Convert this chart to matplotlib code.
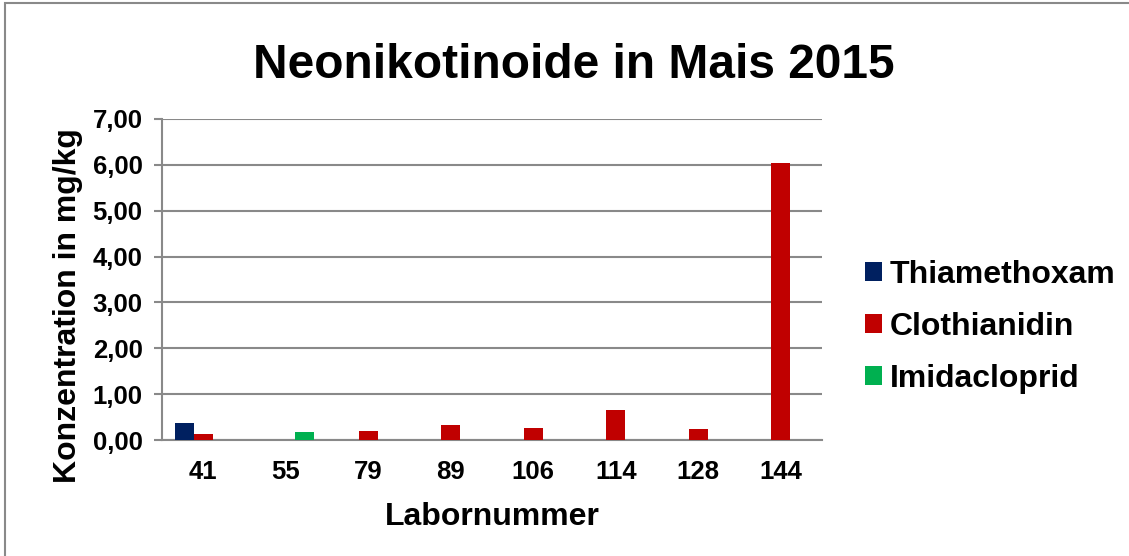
import matplotlib
matplotlib.use("Agg")
import numpy as np
from matplotlib import pyplot as plt
from matplotlib.patches import Rectangle
from matplotlib.ticker import FuncFormatter

plt.rcParams["font.family"] = ["Liberation Sans", "DejaVu Sans"]
plt.rcParams["font.weight"] = "bold"

labs = ["41", "55", "79", "89", "106", "114", "128", "144"]
series = ["Thiamethoxam", "Clothianidin", "Imidacloprid"]
thiamethoxam = [0.38, 0, 0, 0, 0, 0, 0, 0]
clothianidin = [0.14, 0, 0.20, 0.32, 0.27, 0.66, 0.24, 6.05]
imidacloprid = [0, 0.18, 0, 0, 0, 0, 0, 0]
colors = ["#002060", "#C00000", "#00B050"]

grey = "#898989"

fig = plt.figure(figsize=(11.29, 5.56), dpi=100)
fig.patches.append(Rectangle((0.004, -0.01), 1.0, 1.004, transform=fig.transFigure,
                             fill=False, edgecolor=grey, linewidth=1.5))
ax = fig.add_axes([0.1435, 0.2085, 0.5845, 0.5775])

x = np.arange(len(labs))
w = 0.23
for i, (vals, c, name) in enumerate(zip([thiamethoxam, clothianidin, imidacloprid], colors, series)):
    ax.bar(x + (i - 1) * w, vals, width=w, color=c, label=name, zorder=3)

ax.set_xlim(-0.5, len(labs) - 0.5)
ax.set_ylim(0, 7)
ax.set_yticks(np.arange(0, 8, 1))
ax.yaxis.set_major_formatter(FuncFormatter(lambda v, p: f"{v:.2f}".replace(".", ",")))
ax.set_xticks(x)
ax.set_xticklabels(labs)
ax.grid(axis="y", color=grey, linewidth=1.5, zorder=0)
for s in ["top", "right"]:
    ax.spines[s].set_visible(False)
for s in ["left", "bottom"]:
    ax.spines[s].set_color(grey)
    ax.spines[s].set_linewidth(1.5)
ax.tick_params(axis="y", length=6, width=1.5, color=grey, labelsize=18.5, pad=8)
ax.tick_params(axis="x", length=0, labelsize=18.5, pad=14)

ax.set_xlabel("Labornummer", fontsize=23, fontweight="bold", labelpad=13)
ax.set_ylabel("Konzentration in mg/kg", fontsize=23, fontweight="bold")
ax.yaxis.set_label_coords(-0.12, 0.42)
fig.suptitle("Neonikotinoide in Mais 2015", fontsize=34.5, fontweight="bold", x=0.508, y=0.922)

leg = fig.legend(loc="center left", bbox_to_anchor=(0.766, 0.412), frameon=False,
                 fontsize=23, handlelength=0.53, handleheight=0.53, handletextpad=0.25,
                 labelspacing=0.68, borderpad=0, borderaxespad=0)
for t in leg.get_texts():
    t.set_fontweight("bold")

fig.savefig("out.png", dpi=100)
